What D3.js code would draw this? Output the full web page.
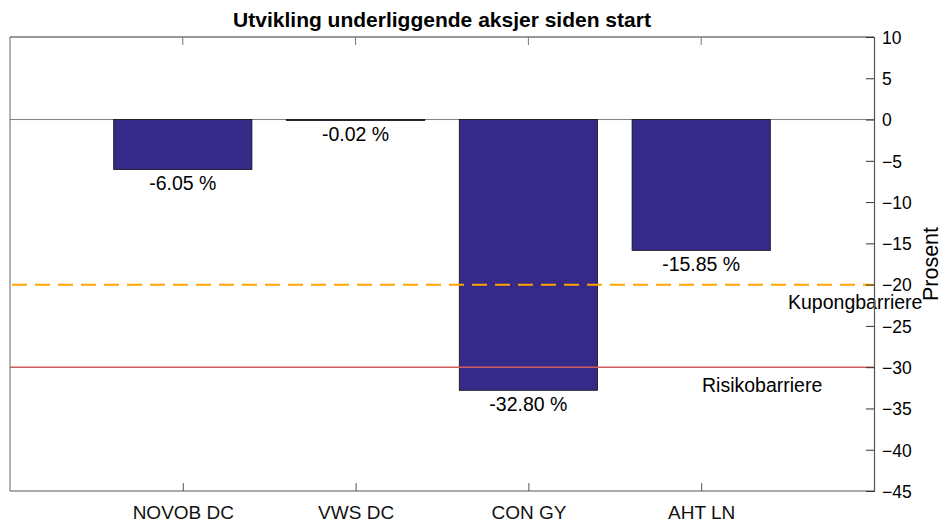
<!DOCTYPE html>
<html><head><meta charset="utf-8">
<script src="https://cdn.jsdelivr.net/npm/d3@7"></script>
<style>body{margin:0;background:#fff;} text{font-family:"Liberation Sans",Arial,sans-serif;}</style>
</head><body>
<svg id="c" width="941" height="522"></svg>
<script>
const categories = ["NOVOB DC","VWS DC","CON GY","AHT LN"];
const values = [-6.05,-0.02,-32.80,-15.85];
const valueLabels = ["-6.05 %","-0.02 %","-32.80 %","-15.85 %"];
const yTicks = [10,5,0,-5,-10,-15,-20,-25,-30,-35,-40,-45];
const kupongBarrier = -20;
const risikoBarrier = -30;
const title = "Utvikling underliggende aksjer siden start";

const svg = d3.select("#c");
const L=10, R=874, T=37, B=491;
const x = d3.scaleLinear().domain([0,5]).range([L,R]);
const y = d3.scaleLinear().domain([-45,10]).range([B,T]);
const bw = (x(1)-x(0))*0.8;
const FS = 19.5;

// zero line
svg.append("line").attr("x1",L).attr("x2",R).attr("y1",y(0)).attr("y2",y(0)).attr("stroke","#808080").attr("stroke-width",1);

// bars
svg.selectAll("rect.bar").data(values).enter().append("rect")
 .attr("x",(d,i)=>x(i+1)-bw/2).attr("width",bw)
 .attr("y",d=>y(Math.max(0,d))).attr("height",d=>Math.max(1,Math.abs(y(d)-y(0))))
 .attr("fill","#352a87").attr("stroke","#111").attr("stroke-width",0.8);

// value labels
svg.selectAll("text.vl").data(values).enter().append("text")
 .attr("x",(d,i)=>x(i+1)).attr("y",d=>y(d)+21)
 .attr("text-anchor","middle").attr("font-size",FS).text((d,i)=>valueLabels[i]);

// barrier lines
svg.append("line").attr("x1",L).attr("x2",R).attr("y1",y(kupongBarrier)).attr("y2",y(kupongBarrier))
 .attr("stroke","#ffa500").attr("stroke-width",2).attr("stroke-dasharray","15,8").attr("stroke-dashoffset",-2);
svg.append("line").attr("x1",L).attr("x2",R).attr("y1",y(risikoBarrier)).attr("y2",y(risikoBarrier))
 .attr("stroke","#cd5c5c").attr("stroke-width",1.5);
svg.append("text").attr("x",788).attr("y",y(kupongBarrier)+24).attr("font-size",FS).text("Kupongbarriere");
svg.append("text").attr("x",702).attr("y",y(risikoBarrier)+25).attr("font-size",FS).text("Risikobarriere");

// frame
svg.append("line").attr("x1",L).attr("x2",R).attr("y1",T).attr("y2",T).attr("stroke","#333");
svg.append("line").attr("x1",L).attr("x2",R).attr("y1",B).attr("y2",B).attr("stroke","#555");
svg.append("line").attr("x1",L).attr("x2",L).attr("y1",T).attr("y2",B).attr("stroke","#666");

// right axis
const ya = svg.append("g").attr("transform",`translate(${R},0)`)
 .call(d3.axisRight(y).tickValues(yTicks).tickSize(-8).tickFormat(d3.format("d")));
ya.select(".domain").attr("stroke","#555").attr("stroke-width",1.2);
ya.selectAll(".tick line").attr("stroke","#333");
ya.selectAll("text").attr("x",8).attr("font-size",17.5).attr("font-family","Liberation Sans,Arial,sans-serif").attr("fill","#000").attr("dy","0.36em");

// bottom axis ticks (inward) and labels
const xa = svg.append("g").attr("transform",`translate(0,${B})`)
 .call(d3.axisBottom(x).tickValues([1,2,3,4]).tickSize(-8).tickFormat((d)=>categories[d-1]));
xa.select(".domain").remove();
xa.selectAll(".tick line").attr("stroke","#555");
xa.selectAll("text").attr("y",28).attr("dy",0).attr("font-size",19).attr("font-family","Liberation Sans,Arial,sans-serif").attr("fill","#111");
// top ticks
svg.selectAll("line.tt").data([1,2,3,4]).enter().append("line")
 .attr("x1",d=>x(d)).attr("x2",d=>x(d)).attr("y1",T).attr("y2",T+8).attr("stroke","#777");

// y label
svg.append("text").attr("transform",`translate(938,${(T+B)/2}) rotate(-90)`).attr("text-anchor","middle")
 .attr("font-size",21.5).text("Prosent");

// title
svg.append("text").attr("x",(L+R)/2).attr("y",27).attr("text-anchor","middle").attr("font-size",21).attr("font-weight","bold").text(title);
</script>
</body></html>
